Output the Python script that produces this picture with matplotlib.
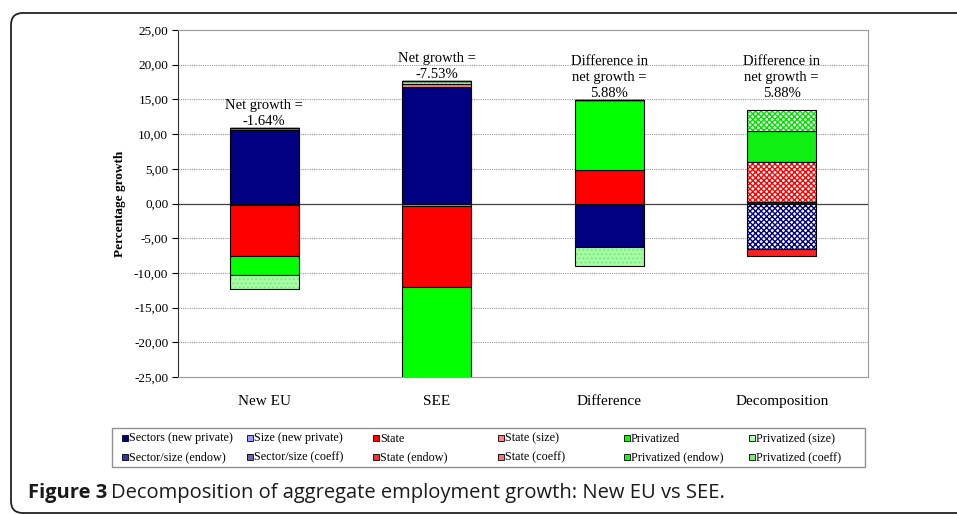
import numpy as np
import matplotlib
matplotlib.use('Agg')
import matplotlib.pyplot as plt
from matplotlib import font_manager
from matplotlib.patches import Rectangle, FancyBboxPatch
from matplotlib.transforms import IdentityTransform

# ---------------- DONNEES ----------------
categories = ['New EU', 'SEE', 'Difference', 'Decomposition']

series_names = ['Sectors (new private)', 'Size (new private)', 'State', 'State (size)',
                'Privatized', 'Privatized (size)',
                'Sector/size (endow)', 'Sector/size (coeff)', 'State (endow)', 'State (coeff)',
                'Privatized (endow)', 'Privatized (coeff)']

sectors_new_private = [10.6, 16.8, -6.3, 0.0]
size_new_private = [-0.25, -0.3, 0.0, 0.0]
state = [-7.35, -11.7, 4.76, 0.0]
state_size = [0.3, 0.48, 0.0, 0.0]
privatized = [-2.65, -13.1, 10.1, 0.0]
privatized_size = [-2.05, 0.36, -2.77, 0.0]
sector_size_endow = [0.0, 0.0, 0.0, 0.2]
sector_size_coeff = [0.0, 0.0, 0.0, -6.5]
state_endow = [0.0, 0.0, 0.0, -1.0]
state_coeff = [0.0, 0.0, 0.0, 5.85]
privatized_endow = [0.0, 0.0, 0.0, 4.43]
privatized_coeff = [0.0, 0.0, 0.0, 2.95]

net_labels = ['Net growth =\n-1.64%', 'Net growth =\n-7.53%',
              'Difference in\nnet growth =\n5.88%', 'Difference in\nnet growth =\n5.88%']

yticks = [-25, -20, -15, -10, -5, 0, 5, 10, 15, 20, 25]

series_values = [sectors_new_private, size_new_private, state, state_size,
                 privatized, privatized_size, sector_size_endow, sector_size_coeff,
                 state_endow, state_coeff, privatized_endow, privatized_coeff]

# couleur, hachure (None = plein), couleur de hachure, couleur du carre de legende
styles = [('#000080', None, None, '#000080'), ('#9999FF', None, None, '#9999FF'),
          ('#FF0000', None, None, '#FF0000'), ('#FF8080', None, None, '#FF8080'),
          ('#00FF00', None, None, '#00FF00'), ('#A6FFA6', '....', '#7FE87F', '#A6FFA6'),
          ('#1A1A9A', None, None, '#3333AA'), ('white', 'xxxxxx', '#000080', '#6666B0'),
          ('#FF2020', None, None, '#FF3030'), ('white', 'xxxxxx', '#FF0000', '#FF7070'),
          ('#10F010', None, None, '#20F020'), ('white', 'xxxxxx', '#00E000', '#70F070')]

# ---------------- FIGURE ----------------
W, H = 957, 514
plt.rcParams['font.family'] = 'Liberation Serif'
plt.rcParams['hatch.linewidth'] = 1.0

fig = plt.figure(figsize=(W / 100, H / 100), dpi=100)
ax = fig.add_axes([178 / W, (H - 377) / H, (868 - 178) / W, (377 - 30) / H])

x = np.arange(len(categories))
width = 0.4
pos_base = np.zeros(len(categories))
neg_base = np.zeros(len(categories))

for vals, (col, hatch, hcol, _) in zip(series_values, styles):
    vals = np.array(vals)
    bottom = np.where(vals >= 0, pos_base, neg_base)
    if hatch is None:
        ax.bar(x, vals, width, bottom=bottom, color=col, edgecolor='black', linewidth=0.8, zorder=3)
    else:
        ax.bar(x, vals, width, bottom=bottom, color=col, edgecolor=hcol, hatch=hatch,
               linewidth=0, zorder=3)
        ax.bar(x, vals, width, bottom=bottom, fill=False, edgecolor='black', linewidth=0.8, zorder=4)
    pos_base = pos_base + np.where(vals > 0, vals, 0)
    neg_base = neg_base + np.where(vals < 0, vals, 0)

# etiquettes au dessus des barres
label_y = [pos_base[0], pos_base[1], pos_base[2], pos_base[2]]
for i, txt in enumerate(net_labels):
    ax.text(x[i], label_y[i] + 0.05, txt, ha='center', va='bottom', fontsize=10.5,
            linespacing=1.3, zorder=5)

ax.set_xlim(-0.5, 3.5)
ax.set_ylim(-25, 25)
ax.set_yticks(yticks)
ax.set_yticklabels([f'{v:.2f}'.replace('.', ',') for v in yticks], fontsize=9.5)
ax.set_xticks(x)
ax.set_xticklabels(categories, fontsize=11)
ax.tick_params(axis='x', length=0, pad=13)
ax.tick_params(axis='y', length=4, direction='out', pad=3)
ax.set_ylabel('Percentage growth', fontsize=9.5, fontweight='bold', labelpad=6)

for v in yticks[1:-1]:
    if v == 0:
        ax.axhline(0, color='#404040', linewidth=0.9, zorder=2)
    else:
        ax.axhline(v, color='#9a9a9a', linewidth=0.8, linestyle=(0, (1, 1)), zorder=1)
for side in ['top', 'right', 'bottom']:
    ax.spines[side].set_color('#9a9a9a')
ax.spines['left'].set_color('#303030')

# ---------------- LEGENDE (manuelle, colonnes regulieres) ----------------
def px(xp, yp):
    return xp / W, 1 - yp / H

lx0, ly0, lx1, ly1 = 112, 428, 865, 467
fig.patches.append(Rectangle(px(lx0, ly1), (lx1 - lx0) / W, (ly1 - ly0) / H,
                             transform=fig.transFigure, fill=False, edgecolor='#909090', linewidth=1))
col_x = 122
col_step = 125.4
row_y = [438, 457]
for i, (name, (col, hatch, hcol, lcol)) in enumerate(zip(series_names, styles)):
    c, r = i % 6, i // 6
    sx = round(col_x + c * col_step)
    sy = row_y[r]
    if hatch is None:
        fig.patches.append(Rectangle(px(sx, sy + 3), 6 / W, 6 / H, transform=fig.transFigure,
                                     facecolor=lcol, edgecolor='black', linewidth=0.6))
    else:
        fig.patches.append(Rectangle(px(sx, sy + 3), 6 / W, 6 / H, transform=fig.transFigure,
                                     facecolor=lcol, edgecolor='white', hatch='xx', linewidth=0))
        fig.patches.append(Rectangle(px(sx, sy + 3), 6 / W, 6 / H, transform=fig.transFigure,
                                     fill=False, edgecolor='black', linewidth=0.6))
    fig.text(*px(sx + 7, sy + 3.5), name, fontsize=8.7, va='baseline', ha='left')

# ---------------- CADRE + LEGENDE DE FIGURE ----------------
fig.patches.append(FancyBboxPatch((11, 1), 990, 500, boxstyle='round,pad=0,rounding_size=12',
                                  transform=IdentityTransform(), fill=False,
                                  edgecolor='#222222', linewidth=1.3))

names = {f.name for f in font_manager.fontManager.ttflist}
cap_font = 'Liberation Sans Narrow' if 'Liberation Sans Narrow' in names else 'Open Sans'
t1 = fig.text(*px(28, 493), 'Figure 3', fontsize=14.5, fontweight='bold', family=cap_font,
              va='center', ha='left', color='#1a1a1a')
fig.canvas.draw()
bb = t1.get_window_extent(renderer=fig.canvas.get_renderer())
fig.text(bb.x1 / W + 4 / W, px(0, 493)[1], 'Decomposition of aggregate employment growth: New EU vs SEE.',
         fontsize=14.5, family=cap_font, va='center', ha='left', color='#1a1a1a')

fig.savefig('out.png', dpi=100)
